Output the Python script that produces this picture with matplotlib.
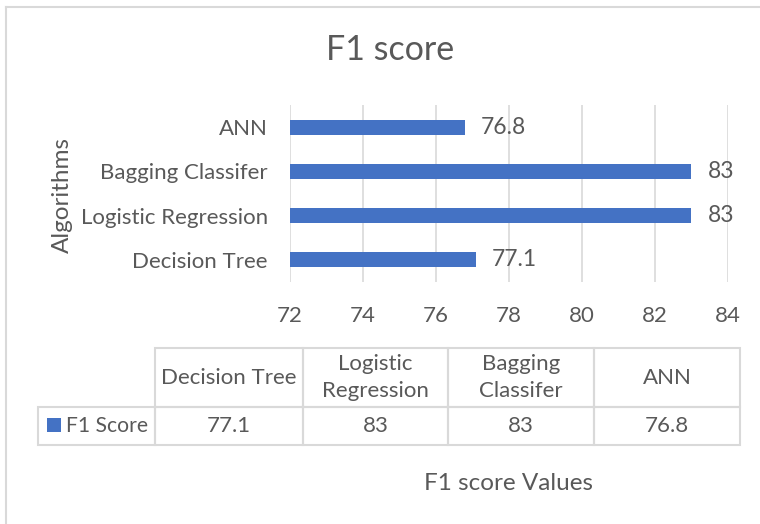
import textwrap
import matplotlib.pyplot as plt
from matplotlib.patches import Rectangle
from matplotlib.lines import Line2D

# chart data
algorithms = ['Decision Tree', 'Logistic Regression', 'Bagging Classifer', 'ANN']
f1_scores = [77.1, 83, 83, 76.8]
series_name = 'F1 Score'
x_ticks = [72, 74, 76, 78, 80, 82, 84]

plt.rcParams['font.family'] = ['Lato', 'DejaVu Sans']
text_color = '#595959'
grid_color = '#D9D9D9'
bar_color = '#4472C4'

W, H = 760, 524
fig = plt.figure(figsize=(W / 100, H / 100), dpi=100)


def fx(px):
    return px / W


def fy(py):
    return 1 - py / H


# chart frame (top and left edge of the chart area)
fig.add_artist(Line2D([fx(6), 1], [fy(7), fy(7)], color=grid_color, lw=1.5))
fig.add_artist(Line2D([fx(6), fx(6)], [fy(7), 0], color=grid_color, lw=1.5))

# bar chart
ax = fig.add_axes([fx(290), fy(282), fx(728) - fx(290), fy(105) - fy(282)])
ypos = list(range(len(algorithms)))
ax.barh(ypos, f1_scores, height=0.34, color=bar_color, zorder=3)
for y, v in zip(ypos, f1_scores):
    ax.annotate('%g' % v, (v, y), xytext=(11.5, 0), textcoords='offset points',
                va='center', ha='left', fontsize=16.5, color=text_color)

ax.set_xlim(x_ticks[0], x_ticks[-1])
ax.set_ylim(-0.5, len(algorithms) - 0.5)
ax.set_xticks(x_ticks)
ax.set_yticks(ypos)
ax.set_yticklabels(algorithms)
ax.tick_params(axis='both', length=0, labelsize=16, labelcolor=text_color)
ax.tick_params(axis='y', pad=16)
ax.tick_params(axis='x', pad=17)
ax.grid(axis='x', color=grid_color, lw=1.2, zorder=0)
for s in ax.spines.values():
    s.set_visible(False)

fig.text(fx(390), fy(50), 'F1 score', ha='center', va='center',
         fontsize=24.5, color=text_color)
fig.text(fx(62), fy(195), 'Algorithms', ha='center', va='center',
         rotation=90, fontsize=17.5, color=text_color)
fig.text(fx(509), fy(483), 'F1 score Values', ha='center', va='center',
         fontsize=17.5, color=text_color)

# data table under the chart
col_edges = [155, 303, 448, 594, 740]
head_top, row_top, row_bottom = 348, 407, 445
label_left = 38


def cell(x0, y0, x1, y1):
    fig.add_artist(Rectangle((fx(x0), fy(y1)), fx(x1) - fx(x0), fy(y0) - fy(y1),
                             transform=fig.transFigure, fill=False,
                             edgecolor=grid_color, lw=1.5))


for i, (name, v) in enumerate(zip(algorithms, f1_scores)):
    x0, x1 = col_edges[i], col_edges[i + 1]
    cell(x0, head_top, x1, row_top)
    cell(x0, row_top, x1, row_bottom)
    fig.text(fx((x0 + x1) / 2), fy((head_top + row_top) / 2), textwrap.fill(name, 13),
             ha='center', va='center', fontsize=16, color=text_color, linespacing=1.45)
    fig.text(fx((x0 + x1) / 2), fy((row_top + row_bottom) / 2), '%g' % v,
             ha='center', va='center', fontsize=16, color=text_color)

cell(label_left, row_top, col_edges[0], row_bottom)
fig.add_artist(Rectangle((fx(47), fy(432)), fx(61) - fx(47), fy(418) - fy(432),
                         transform=fig.transFigure, color=bar_color, lw=0))
fig.text(fx(66), fy((row_top + row_bottom) / 2), series_name, ha='left', va='center',
         fontsize=15.2, color=text_color)

fig.savefig('out.png', dpi=100)
